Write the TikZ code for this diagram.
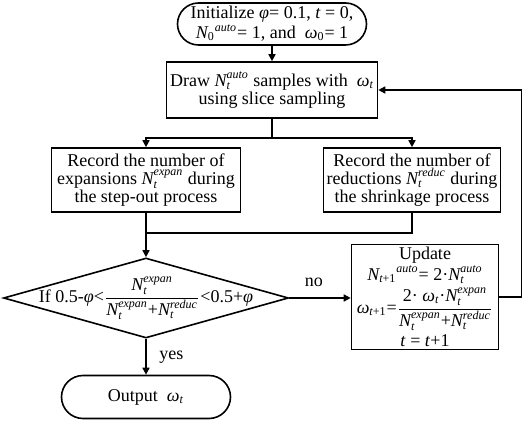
\documentclass[tikz,border=0pt]{standalone}
\usepackage{amsmath}
\usepackage{fontspec}
\setmainfont{Liberation Serif}
\usetikzlibrary{shapes.geometric,arrows.meta}

\newcommand{\vi}[1]{\text{\itshape #1}}
\newcommand{\Nt}[1]{\vi{N}_{\vi{t}}^{\vi{#1}}}

\tikzstyle{term} = [draw, rectangle, rounded corners=10.5pt, align=center, inner sep=0pt]
\tikzstyle{proc} = [draw, rectangle, align=center, inner sep=0pt]
\tikzstyle{dec} = [draw, diamond, inner sep=0pt]
\tikzstyle{arr} = [-{Triangle[length=3.5pt,width=3.5pt]}]

\begin{document}
\begin{tikzpicture}[x=0.5pt, y=-0.5pt, line width=0.8pt, font=\fontsize{9}{9}\selectfont]
\useasboundingbox (0,0) rectangle (526,422);
\node[term, minimum width=94.5pt, minimum height=21pt] (init) at (272,24)
	{Initialize \textit{φ}= 0.1, \textit{t} = 0,\\
	$\vi{N}_{\text{0}}{}^{\vi{auto}}$= 1, and \ \textit{ω}$_{\text{0}}$= 1};
\node[proc, minimum width=105.5pt, minimum height=28pt] (samp) at (272,90)
	{Draw $\Nt{auto}$ samples with \ \textit{ω}$_{\vi{t}}$\\
	using slice sampling};
\node[proc, minimum width=94.5pt, minimum height=32pt] (expn) at (146,180)
	{Record the number of\\
	expansions $\Nt{expan}$ during\\
	the step-out process};
\node[proc, minimum width=88.5pt, minimum height=32pt] (redn) at (412,180)
	{Record the number of\\
	reductions $\Nt{reduc}$ during\\
	the shrinkage process};
\node[dec, minimum width=142.5pt, minimum height=40pt] (cond) at (146,298) {};
\node (ctxt) at (cond.center)
	{If 0.5-\textit{φ}<$\dfrac{\Nt{expan}}{\Nt{expan}\text{+}\Nt{reduc}}$<0.5+\textit{φ}};
\node[proc, minimum width=73.5pt, minimum height=52.5pt] (upd) at (425,297)
	{Update\\
	$\vi{N}_{\vi{t}\text{+1}}{}^{\vi{auto}}$= 2·$\Nt{auto}$\\[1pt]
	$\vi{ω}_{\vi{t}\text{+1}}$=$\dfrac{\text{2· }\vi{ω}_{\vi{t}}\text{·}\Nt{expan}}{\Nt{expan}\text{+}\Nt{reduc}}$\\[1pt]
	\textit{t} = \textit{t}+1};
\node[term, minimum width=84.5pt, minimum height=21.5pt, rounded corners=10.75pt] (out) at (146,397)
	{Output \ \textit{ω}$_{\vi{t}}$};
\coordinate (mrg) at (146,233);

% connectors
\draw[arr] (init) -- (samp);
\draw[arr] (samp.south) -- ++(0,19) -| (expn.north);
\draw[arr] (samp.south) -- ++(0,19) -| (redn.north);
\draw (redn.south) |- (mrg);
\draw[arr] (expn.south) -- (cond.north);
\draw[arr] (cond.east) -- node[above=2pt, pos=0.4] {no} (cond.east -| upd.west);
\draw[arr] (upd.east) -- ++(22,0) |- (samp.east);
\draw[arr] (cond.south) -- node[right=3pt] {yes} (out.north);
\end{tikzpicture}
\end{document}
